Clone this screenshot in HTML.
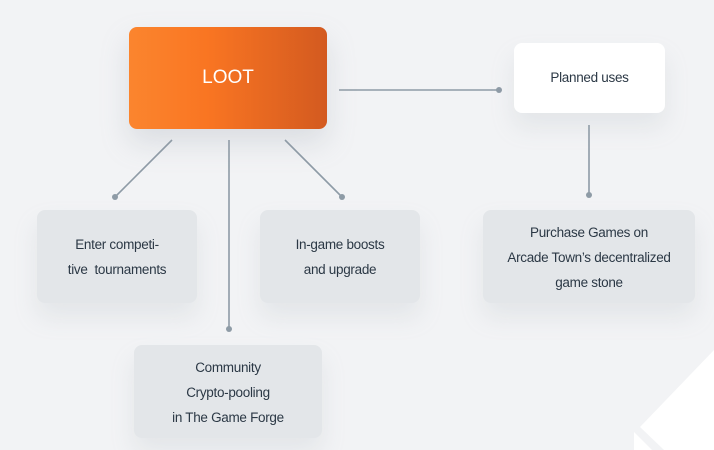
<!DOCTYPE html>
<html><head><meta charset="utf-8"><style>
*{margin:0;padding:0;box-sizing:border-box}
body{width:714px;height:450px;background:#f2f3f5;position:relative;overflow:hidden;font-family:"Liberation Sans",sans-serif}
.b{position:absolute;background:#e3e6e9;border-radius:8px;color:#2b3845;font-size:13.5px;line-height:25px;text-align:center;letter-spacing:-0.3px;box-shadow:0 14px 24px rgba(160,170,180,0.18)}
svg{position:absolute;left:0;top:0}
</style></head><body>
<svg width="714" height="450">
<polygon points="714,350 640,427 664,450 714,450" fill="#fff"/>
<polygon points="634,432 634,450 652,450" fill="#fff"/>
<g stroke="#8e9ba6" stroke-width="1.6" fill="#8e9ba6">
<line x1="339" y1="90" x2="499" y2="90"/><circle cx="499" cy="90" r="3" stroke="none"/>
<line x1="589" y1="125" x2="589" y2="195"/><circle cx="589" cy="195" r="3" stroke="none"/>
<line x1="172" y1="140" x2="115" y2="197"/><circle cx="115" cy="197" r="3" stroke="none"/>
<line x1="229" y1="140" x2="229" y2="329"/><circle cx="229" cy="329" r="3" stroke="none"/>
<line x1="285" y1="140" x2="342" y2="197"/><circle cx="342" cy="197" r="3" stroke="none"/>
</g>
</svg>
<div style="position:absolute;left:129px;top:27px;width:198px;height:102px;border-radius:8px;background:linear-gradient(90deg,#fb852e 0%,#f97522 40%,#d35a20 100%);color:#fff;font-size:19px;line-height:102px;text-align:center;box-shadow:0 14px 28px rgba(150,160,170,0.25)">LOOT</div>
<div class="b" style="left:514px;top:43px;width:151px;height:70px;background:#fff;padding-top:22px;line-height:25px">Planned uses</div>
<div class="b" style="left:37px;top:210px;width:160px;height:93px;padding-top:22px">Enter competi-<br>tive&nbsp; tournaments</div>
<div class="b" style="left:260px;top:210px;width:160px;height:93px;padding-top:22px">In-game boosts<br>and upgrade</div>
<div class="b" style="left:483px;top:210px;width:212px;height:93px;padding-top:10px">Purchase Games on<br>Arcade Town’s decentralized<br>game stone</div>
<div class="b" style="left:134px;top:345px;width:188px;height:93px;padding-top:10px">Community<br>Crypto-pooling<br>in The Game Forge</div>
</body></html>
